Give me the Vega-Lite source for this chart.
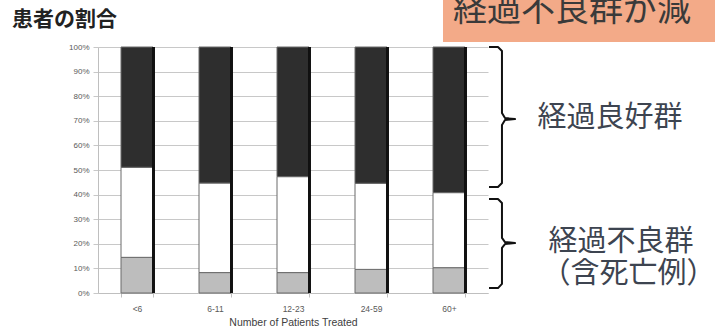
{
  "$schema": "https://vega.github.io/schema/vega-lite/v6.json",
  "autosize": {"type": "none"},
  "padding": {"left": 98, "top": 47, "right": 227, "bottom": 41},
  "width": 390,
  "height": 246,
  "background": "#ffffff",
  "config": {
    "view": {"stroke": null},
    "axisY": {
      "title": null, "format": ".0%", "tickCount": 10, "labelOverlap": false,
      "labelFontSize": 8, "labelColor": "#595959", "labelFont": "Liberation Sans", "labelPadding": 4,
      "domainColor": "#BFBFBF", "tickColor": "#C8C8C8", "tickSize": 5,
      "gridColor": "#C8C8C8", "gridWidth": 1
    }
  },
  "datasets": {
    "bars": [
      {"n": "<6", "group": "不良", "ord": 1, "pct": 0.145},
      {"n": "<6", "group": "中", "ord": 2, "pct": 0.366},
      {"n": "<6", "group": "良好", "ord": 3, "pct": 0.489},
      {"n": "6-11", "group": "不良", "ord": 1, "pct": 0.083},
      {"n": "6-11", "group": "中", "ord": 2, "pct": 0.364},
      {"n": "6-11", "group": "良好", "ord": 3, "pct": 0.553},
      {"n": "12-23", "group": "不良", "ord": 1, "pct": 0.083},
      {"n": "12-23", "group": "中", "ord": 2, "pct": 0.390},
      {"n": "12-23", "group": "良好", "ord": 3, "pct": 0.527},
      {"n": "24-59", "group": "不良", "ord": 1, "pct": 0.096},
      {"n": "24-59", "group": "中", "ord": 2, "pct": 0.350},
      {"n": "24-59", "group": "良好", "ord": 3, "pct": 0.554},
      {"n": "60+", "group": "不良", "ord": 1, "pct": 0.103},
      {"n": "60+", "group": "中", "ord": 2, "pct": 0.305},
      {"n": "60+", "group": "良好", "ord": 3, "pct": 0.592}
    ],
    "braces": [
      {"b": "top", "i": 1, "ax": 5.013, "ay": 1.0},
      {"b": "top", "i": 2, "ax": 5.128, "ay": 1.0},
      {"b": "top", "i": 3, "ax": 5.179, "ay": 0.984},
      {"b": "top", "i": 4, "ax": 5.179, "ay": 0.732},
      {"b": "top", "i": 5, "ax": 5.218, "ay": 0.711},
      {"b": "top", "i": 6, "ax": 5.346, "ay": 0.707},
      {"b": "top", "i": 7, "ax": 5.218, "ay": 0.703},
      {"b": "top", "i": 8, "ax": 5.179, "ay": 0.683},
      {"b": "top", "i": 9, "ax": 5.179, "ay": 0.447},
      {"b": "top", "i": 10, "ax": 5.128, "ay": 0.431},
      {"b": "top", "i": 11, "ax": 5.013, "ay": 0.431},
      {"b": "low", "i": 1, "ax": 5.013, "ay": 0.382},
      {"b": "low", "i": 2, "ax": 5.128, "ay": 0.382},
      {"b": "low", "i": 3, "ax": 5.179, "ay": 0.366},
      {"b": "low", "i": 4, "ax": 5.179, "ay": 0.224},
      {"b": "low", "i": 5, "ax": 5.218, "ay": 0.207},
      {"b": "low", "i": 6, "ax": 5.346, "ay": 0.203},
      {"b": "low", "i": 7, "ax": 5.218, "ay": 0.199},
      {"b": "low", "i": 8, "ax": 5.179, "ay": 0.183},
      {"b": "low", "i": 9, "ax": 5.179, "ay": 0.037},
      {"b": "low", "i": 10, "ax": 5.128, "ay": 0.020},
      {"b": "low", "i": 11, "ax": 5.013, "ay": 0.020}
    ]
  },
  "resolve": {"scale": {"x": "independent"}},
  "layer": [
    {
      "data": {"name": "bars"},
      "mark": {"type": "bar", "stroke": "#6a6a6a", "strokeWidth": 1},
      "encoding": {
        "x": {
          "field": "n", "type": "nominal",
          "sort": ["<6", "6-11", "12-23", "24-59", "60+"],
          "scale": {"paddingInner": 0.59, "paddingOuter": 0.295},
          "axis": {
            "labelAngle": 0, "labelFontSize": 8.5, "labelColor": "#595959",
            "labelFont": "Liberation Sans", "labelPadding": 7,
            "domainColor": "#BFBFBF", "tickColor": "#BFBFBF", "tickBand": "extent", "tickSize": 4,
            "title": "Number of Patients Treated", "titleFont": "Liberation Sans",
            "titleFontSize": 10.5, "titleFontWeight": "normal", "titleColor": "#404040", "titlePadding": 5
          }
        },
        "y": {
          "field": "pct", "type": "quantitative", "stack": "zero",
          "scale": {"domain": [0, 1], "nice": false}
        },
        "color": {
          "field": "group", "type": "nominal",
          "scale": {"domain": ["不良", "中", "良好"], "range": ["#BDBDBD", "#FFFFFF", "#2E2E2E"]},
          "legend": null
        },
        "order": {"field": "ord", "type": "quantitative"}
      }
    },
    {
      "data": {"name": "bars"},
      "mark": {"type": "rule", "color": "#111111", "strokeWidth": 2.5, "xOffset": 16.5},
      "encoding": {
        "x": {
          "field": "n", "type": "nominal",
          "sort": ["<6", "6-11", "12-23", "24-59", "60+"],
          "scale": {"paddingInner": 0.59, "paddingOuter": 0.295},
          "axis": null
        },
        "y": {"datum": 0},
        "y2": {"datum": 1}
      }
    },
    {
      "data": {"name": "braces"},
      "mark": {"type": "line", "color": "#111111", "strokeWidth": 2, "strokeJoin": "round", "clip": false},
      "encoding": {
        "x": {"field": "ax", "type": "quantitative", "scale": {"domain": [0, 5], "nice": false, "zero": false}, "axis": null},
        "y": {"field": "ay", "type": "quantitative"},
        "detail": {"field": "b"},
        "order": {"field": "i", "type": "quantitative"}
      }
    },
    {
      "data": {"values": [{"t": "経過不良群が減"}]},
      "mark": {"type": "rect", "color": "#F3AA88", "clip": false},
      "encoding": {
        "x": {"datum": 4.423, "type": "quantitative", "scale": {"domain": [0, 5], "nice": false, "zero": false}, "axis": null},
        "x2": {"datum": 7.95},
        "y": {"datum": 1.2},
        "y2": {"datum": 1.02}
      }
    },
    {
      "data": {"values": [{"t": "経過不良群が減"}]},
      "mark": {"type": "text", "align": "left", "baseline": "middle", "font": "Noto Sans CJK JP", "fontSize": 34, "color": "#3a3a3a", "clip": false},
      "encoding": {
        "x": {"datum": 4.55, "type": "quantitative", "scale": {"domain": [0, 5], "nice": false, "zero": false}, "axis": null},
        "y": {"datum": 1.148},
        "text": {"field": "t"}
      }
    },
    {
      "data": {"values": [{"t": "患者の割合"}]},
      "mark": {"type": "text", "align": "left", "baseline": "middle", "font": "Noto Sans CJK JP", "fontSize": 21, "fontWeight": "bold", "color": "#222222", "clip": false},
      "encoding": {
        "x": {"datum": -1.103, "type": "quantitative", "scale": {"domain": [0, 5], "nice": false, "zero": false}, "axis": null},
        "y": {"datum": 1.11},
        "text": {"field": "t"}
      }
    },
    {
      "data": {"values": [{"t": "経過良好群", "ax": 6.564, "ay": 0.711}, {"t": "経過不良群", "ax": 6.705, "ay": 0.208}, {"t": "（含死亡例）", "ax": 6.80, "ay": 0.078}]},
      "mark": {"type": "text", "align": "center", "baseline": "middle", "font": "Noto Sans CJK JP", "fontSize": 29, "color": "#3d4450", "clip": false},
      "encoding": {
        "x": {"field": "ax", "type": "quantitative", "scale": {"domain": [0, 5], "nice": false, "zero": false}, "axis": null},
        "y": {"field": "ay", "type": "quantitative"},
        "text": {"field": "t"}
      }
    }
  ]
}
